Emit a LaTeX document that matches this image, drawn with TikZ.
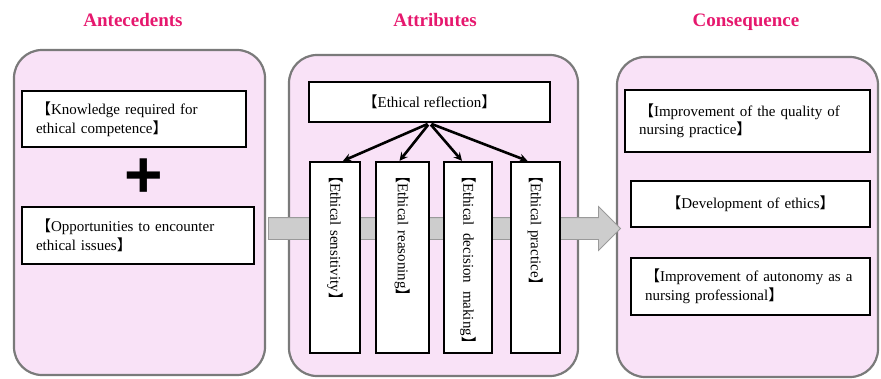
\documentclass[tikz,border=0pt]{standalone}
\usepackage{fontspec}
\setmainfont{Liberation Serif}
\newfontfamily\cjk{Noto Sans CJK JP}
\newfontfamily\plusfont{Liberation Sans}
\usepackage{color}
\usepackage{tikz}
\definecolor{pink100}{HTML}{F9E2F7}
\definecolor{title500}{HTML}{E6186E}
\definecolor{gray500}{HTML}{7A7A7A}
\definecolor{gray300}{HTML}{CDCDCD}
\definecolor{gray400}{HTML}{9A9A9A}
\usetikzlibrary{arrows,shapes.arrows}
\newcommand{\lbr}{{\cjk 【}}
\newcommand{\rbr}{{\cjk 】}}
\tikzstyle{panel}=[rectangle, rounded corners=28pt, draw=gray500, line width=2.2pt, fill=pink100]
\tikzstyle{heading}=[text=title500, font=\fontsize{19}{22}\selectfont\bfseries]
\tikzstyle{item}=[rectangle, draw=black, line width=2.3pt, fill=white, inner xsep=14pt, font=\fontsize{15}{18.5}\selectfont]
\tikzstyle{pillar}=[item, rotate=-90, minimum width=191pt, inner xsep=6pt, align=left, text width=179pt]
\tikzstyle{flow}=[single arrow, draw=gray400, fill=gray300, line width=0.8pt, inner sep=10.5pt, single arrow head extend=11pt, minimum height=352pt]
\tikzstyle{link}=[line width=2.6pt, shorten <=2pt]

\begin{document}
\begin{tikzpicture}[x=1pt, y=-1pt, ->, >=stealth]
				\useasboundingbox (0,0) rectangle (881,378);
				\node[heading] (anteh) at (133,20) {Antecedents};
				\node[heading] (attrh) at (435,20) {Attributes};
				\node[heading] (consh) at (746,22) {Consequence};
				\node[panel, minimum width=251pt, minimum height=325pt] (ante) at (139.5,212.5) {};
				\node[panel, minimum width=289pt, minimum height=321pt] (attr) at (433.5,215.5) {};
				\node[panel, minimum width=261pt, minimum height=320pt] (cons) at (747.5,217) {};
				\node[flow] (flow) at (439,228.5) {};
				\node[item, text width=196pt, minimum height=56pt, align=left] (know) at (134,119) {\lbr Knowledge required for\\ethical competence\rbr};
				\node[font=\plusfont\bfseries\fontsize{66}{66}\selectfont, inner sep=0pt] (plus) at (144,178.5) {+};
				\node[item, text width=204pt, minimum height=57pt, align=left] (oppo) at (138,235.5) {\lbr Opportunities to encounter\\ethical issues\rbr};
				\node[item, minimum width=241pt, minimum height=40pt] (refl) at (429.5,102) {\lbr Ethical reflection\rbr};
				\node[pillar, minimum height=50pt] (sens) at (335,257.5) {\lbr Ethical sensitivity\rbr};
				\node[pillar, minimum height=53pt] (reas) at (402.5,257.5) {\lbr Ethical reasoning\rbr};
				\node[pillar, minimum height=48pt] (deci) at (468,257.5) {\hbox to 183pt{\lbr Ethical\hfill decision\hfill making\rbr}};
				\node[pillar, minimum height=49pt] (prac) at (535.5,257.5) {\lbr Ethical practice\rbr};
				\draw[link] (refl.south) -- ([xshift=8pt]sens.west);
				\draw[link] (refl.south) -- ([xshift=-3pt]reas.west);
				\draw[link] (refl.south) -- ([xshift=-6pt]deci.west);
				\draw[link] (refl.south) -- ([xshift=-8pt]prac.west);
				\node[item, text width=217pt, minimum height=62pt, align=left] (qual) at (747.5,121) {\makebox[217pt][s]{\lbr Improvement of the quality of}\\nursing practice\rbr};
				\node[item, text width=211pt, minimum height=46pt, align=center] (deve) at (750.5,204) {\lbr Development of ethics\rbr};
				\node[item, text width=211pt, minimum height=57pt, align=left] (auto) at (750.5,286.5) {\lbr Improvement of autonomy as a\\nursing professional\rbr};
			\end{tikzpicture}
\end{document}
